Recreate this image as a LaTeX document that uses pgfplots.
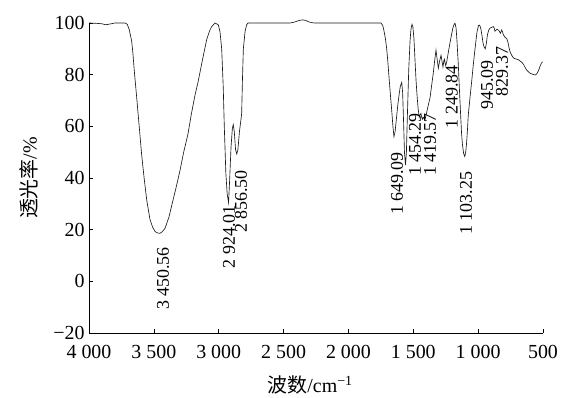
\documentclass[border=0pt]{standalone}
\usepackage{fontspec}
\setmainfont{Liberation Serif}
\newfontfamily\cjk{Noto Sans CJK SC}
\usepackage{pgfplots}
\pgfplotsset{compat=1.18}
\begin{document}
\begin{tikzpicture}
\begin{axis}[
  at={(0,0)}, anchor=south west,
  scale only axis, width=454bp, height=310bp,
  xmin=500, xmax=4000, ymin=-20, ymax=100,
  x dir=reverse,
  axis x line*=bottom, axis y line*=left,
  axis line style={-, line width=0.8pt, black},
  xtick={500,1000,1500,2000,2500,3000,3500,4000},
  xticklabels={500,1~000,1~500,2~000,2~500,3~000,3~500,4~000},
  ytick={-20,0,20,40,60,80,100},
  yticklabels={−20,0,20,40,60,80,100},
  tick align=inside, major tick length=4bp,
  tick style={black, line width=0.7pt},
  ticklabel style={font=\fontsize{20}{20}\selectfont, text=black},
  xticklabel style={yshift=-9bp},
  yticklabel style={xshift=-1bp},
  xlabel={{\cjk 波数}/cm\textsuperscript{−1}},
  ylabel={{\cjk 透光率}/\%},
  xlabel style={at={(axis description cs:0.487,-0.168)}, anchor=center, font=\fontsize{20}{20}\selectfont},
  ylabel style={at={(axis description cs:-0.132,0.5)}, anchor=center, font=\fontsize{20}{20}\selectfont},
  clip=false,
]
\addplot[black!90, line width=0.65pt] table {
x y
4000 100
3950 99.9
3900 99.7
3870 99.3
3840 99.6
3800 100
3760 100
3722 100
3705 99.5
3690 97.5
3671 93
3661 88
3650 81
3632 71
3613 60
3594 49
3575 40
3555 31.5
3530 24
3510 21
3491 19.3
3470 18.7
3453 18.6
3435 19.2
3414 20.5
3383 25
3352 31.5
3330 36
3298 43
3270 50
3237 57
3210 65
3183 72
3160 77
3144 81
3120 87
3093 93.5
3070 97
3054 98.6
3029 100
3003 99.3
2990 96.6
2977 90
2965 75
2957 60
2945 42
2935 34
2924 30.5
2915 40
2905 52
2895 59
2888 60.7
2880 58
2870 51
2861 49.3
2852 51
2840 58
2830 62
2823 65
2817 78
2810 90
2797 96.6
2785 99.3
2774 100
2600 100
2450 100
2420 100.3
2397 100.7
2370 101.1
2350 101.2
2330 101
2304 100.4
2280 100.1
2258 100
2000 100
1800 100
1749 100
1735 99
1726 97
1715 94
1705 90
1696 85
1687 79
1676 72
1666 66
1657 60
1649 56
1640 58
1630 63
1620 68
1610 72
1600 75.5
1589 77
1582 73
1575 62
1568 50
1560 45
1553 50
1545 65
1535 82
1525 93
1518 97.5
1510 99.5
1503 98.5
1495 94
1487 86
1479 78
1471 72
1463 67
1454 63.5
1447 64.5
1441 65
1435 63.5
1429 62.8
1424 63.5
1420 63.3
1413 62.5
1405 63.5
1394 66
1383 68.5
1371 71
1358 76
1346 80.5
1335 85.5
1325 89.5
1316 86
1307 82.5
1296 85.5
1286 87.5
1278 85
1271 83
1264 85.5
1259 86
1255 84.5
1250 83.5
1242 85
1232 88
1220 91.5
1209 94.5
1195 98
1185 99.5
1178 99.9
1170 98
1163 93
1153 84
1144 74
1135 64.5
1128 57.5
1121 53
1112 49.5
1103 48.3
1096 50
1090 53
1083 58
1076 64.4
1063 71
1050 77.3
1037 84
1024 90
1009 96.5
997 99
991 99.2
985 98.8
978 97.5
970 95
963 92.5
955 90.8
945 90
937 92
928 95.5
918 97.3
909 98
896 98.3
883 98.6
876 98
870 96.8
862 97.2
855 97.6
847 97.4
839 97
829 96
823 96.7
818 97.3
812 96.5
806 95.5
793 94.5
780 94
770 92.5
762 90.5
753 88.7
741 87.5
728 86.5
716 86.2
703 86
690 85.8
677 85.3
664 84.8
650 84
638 82.8
626 81.8
610 81
598 80.5
587 80.3
570 80
560 79.9
549 80.2
535 81.5
523 83.2
512 84.5
502 85
};
\begin{scope}[every node/.style={rotate=90, anchor=east, inner sep=0pt, font=\fontsize{18}{18}\selectfont}]
\node at (axis cs:3430,13.3) {3 450.56};
\node at (axis cs:2921,29.5) {2 924.01};
\node at (axis cs:2828,43.1) {2 856.50};
\node at (axis cs:1626,50.1) {1 649.09};
\node at (axis cs:1487,65.2) {1 454.29};
\node at (axis cs:1371,65.2) {1 419.57};
\node at (axis cs:1204,83.7) {1 249.84};
\node at (axis cs:1094,42.4) {1 103.25};
\node at (axis cs:932,85.7) {945.09};
\node at (axis cs:816,90.8) {829.37};
\end{scope}
\end{axis}
\pgfresetboundingbox
\useasboundingbox (-89bp,-65bp) rectangle (487bp,333bp);
\end{tikzpicture}
\end{document}
